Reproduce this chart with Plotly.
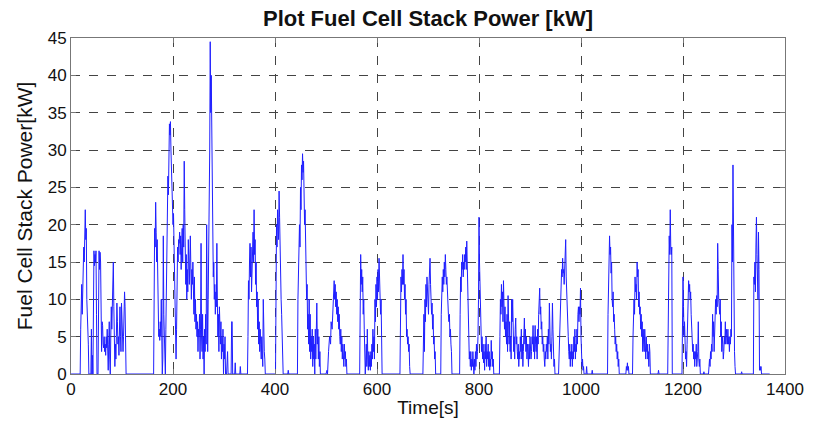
import plotly.graph_objects as go

# Fuel cell stack power over the drive cycle, (time [s], power [kW]) pairs
seg_start = [
    (0, 0), (18, 0), (19, 6), (20, 11), (21, 12), (22, 8), (23, 13), (24, 16), (25, 17), (26, 15),
    (27, 19), (28, 22), (29, 18), (30, 19.5), (31, 10), (32, 8), (33, 8.5), (34, 4), (35, 0), (39, 0),
    (40, 6), (41, 0), (42, 2.5), (43, 0), (44, 12), (45, 16.5), (46, 14.5), (47, 16), (48, 15), (49, 16.5),
    (50, 8), (51, 0), (53, 0), (54, 12), (55, 16.5), (56, 14), (57, 16.3), (58, 15), (59, 10), (60, 3),
    (61, 7), (62, 6.5), (63, 4), (64, 3.5), (65, 5), (66, 3), (67, 4), (68, 2.5), (69, 5), (70, 3.5),
    (71, 6), (72, 2), (73, 0.5), (74, 4), (75, 7), (76, 2), (77, 0), (78, 5), (79, 9), (80, 6),
    (81, 8.5), (82, 9), (83, 15), (84, 9), (85, 6), (86, 1), (87, 4), (88, 2), (89, 5), (90, 9.5),
    (91, 7), (92, 4), (93, 5), (94, 2.5), (95, 6), (96, 9), (97, 5), (98, 3), (99, 9.5), (100, 7),
    (101, 4), (102, 3), (103, 5), (104, 10.5), (105, 11), (106, 9), (107, 3), (108, 0), (162, 0),
]

seg_first_hill = [
    (163, 12), (164, 19.5), (165, 17), (166, 23), (167, 19), (168, 15), (169, 18), (170, 12), (171, 9),
    (172, 5), (173, 6), (174, 4.5), (175, 7), (176, 5), (177, 10), (178, 3), (179, 0), (180, 2),
    (181, 18.5), (182, 8), (183, 3), (184, 0), (185, 0), (186, 6), (188, 14), (189, 20), (190, 26.5),
    (191, 24), (192, 30), (193, 33.5), (194, 32), (195, 33.8), (196, 30), (197, 28), (198, 25), (199, 22),
    (200, 20), (201, 21.5), (202, 16), (203, 12), (204, 10), (205, 5), (206, 2), (207, 6), (208, 12),
    (209, 17), (210, 15), (211, 18), (212, 17.5), (213, 19), (214, 16), (215, 18.5), (216, 14), (217, 17),
    (218, 19.5), (219, 15), (220, 20), (221, 17), (222, 28.5), (223, 22), (224, 18), (225, 12), (226, 16),
    (227, 10), (228, 14), (229, 11), (230, 18), (231, 15), (232, 12), (234, 18.5), (235, 13), (236, 10),
    (237, 14), (238, 12), (239, 15), (240, 10), (241, 8), (242, 13), (243, 7), (244, 10), (245, 6),
    (246, 8), (247, 5), (248, 7), (249, 3), (250, 6), (251, 5), (252, 8), (253, 2), (254, 6),
    (255, 17.5), (256, 5), (257, 3), (258, 8), (259, 2), (260, 5), (261, 0), (262, 6), (263, 3),
    (264, 8), (265, 4), (266, 20), (267, 6), (268, 3), (269, 10), (270, 15), (271, 22), (272, 30),
    (273, 44.5), (274, 35), (275, 40), (276, 30), (277, 25), (278, 18), (279, 13), (280, 15), (281, 10),
    (282, 12), (283, 8), (284, 11), (285, 9), (286, 17.5), (287, 10), (288, 5), (289, 8), (290, 3),
    (291, 9), (292, 6), (293, 4), (294, 7), (295, 2), (296, 5), (297, 3), (298, 6), (299, 0),
    (300, 4), (301, 2), (302, 5), (303, 0), (305, 0), (307, 3), (308, 0), (314, 0), (315, 7),
    (316, 7), (317, 0), (321, 0), (322, 1.5), (323, 0), (331, 0), (332, 1), (333, 0), (346, 0),
]

seg_mid_a = [
    (347, 5), (348, 12.5), (349, 10), (350, 15), (351, 17.5), (352, 13), (353, 17), (354, 11), (355, 16),
    (356, 14), (357, 19), (358, 15), (359, 22), (360, 16), (361, 18), (362, 12), (363, 15), (364, 9),
    (365, 11), (366, 6), (367, 10), (368, 4), (369, 7), (370, 3), (371, 6), (372, 4), (373, 2),
    (374, 5), (375, 3), (376, 1), (377, 10), (378, 4), (379, 3), (380, 2), (381, 0), (401, 0),
    (402, 12), (403, 20), (404, 17), (405, 22), (406, 20), (407, 18), (408, 24.5), (409, 21), (410, 15),
    (411, 17), (412, 10), (413, 8), (414, 5), (415, 3), (416, 0), (425, 0), (426, 0.5), (427, 0),
    (444, 0), (445, 10), (446, 15), (447, 13), (448, 20), (449, 17), (450, 25), (451, 22), (452, 28),
    (453, 26), (454, 29.5), (455, 27), (456, 28.5), (457, 24), (458, 20), (459, 22), (460, 15), (461, 13),
    (462, 10), (463, 12), (464, 6), (465, 8), (466, 4), (467, 10), (468, 3), (469, 8), (470, 2),
    (471, 5), (472, 3), (473, 6), (474, 1), (475, 5), (476, 2), (477, 4), (478, 0), (479, 6),
    (480, 2), (481, 5), (482, 9.5), (483, 4), (484, 6), (485, 2), (486, 5), (487, 1), (488, 3),
    (489, 0), (500, 0), (502, 0.5), (503, 0), (505, 3), (507, 5), (509, 4), (510, 7), (512, 6),
    (514, 9), (515, 10), (516, 12.5), (517, 10), (518, 12), (519, 9), (520, 11), (521, 8), (522, 10),
    (523, 7), (524, 9), (525, 6), (526, 8), (527, 5), (528, 4), (529, 6), (530, 3), (531, 5),
    (532, 2), (533, 4), (534, 3), (535, 1), (536, 4), (537, 2), (538, 3), (539, 1), (540, 2),
    (541, 0), (566, 0),
]

seg_mid_b = [
    (567, 6), (568, 16), (569, 12), (570, 14), (571, 11), (572, 13), (573, 8), (574, 10), (575, 6),
    (576, 3), (577, 0), (578, 2), (579, 4), (580, 1), (581, 6), (582, 2), (583, 0.5), (584, 3),
    (585, 1), (586, 2.5), (587, 0.5), (588, 3), (589, 1), (590, 4), (591, 2), (592, 6), (593, 3),
    (594, 5), (595, 2), (596, 10), (597, 7), (598, 12), (599, 9), (600, 13), (601, 10), (602, 14),
    (603, 11), (604, 15.5), (605, 12), (606, 13), (607, 8), (608, 10), (609, 3), (610, 0), (645, 0),
    (646, 10), (647, 13), (648, 11), (649, 14), (650, 12), (651, 16), (652, 12), (653, 14), (654, 10),
    (655, 12), (656, 8), (657, 10), (658, 5), (659, 6), (660, 4), (661, 5), (662, 3), (663, 4),
    (664, 1), (665, 0), (690, 0), (691, 4), (692, 8), (693, 3), (694, 10), (695, 7), (696, 12),
    (697, 9), (698, 13), (699, 10), (700, 11), (701, 8), (702, 12), (703, 14), (704, 15.5), (705, 12),
    (706, 10), (707, 8), (708, 9.5), (709, 6), (710, 8), (711, 4), (712, 5), (713, 2), (714, 3),
    (715, 0), (725, 0), (726, 8), (727, 12), (728, 13), (729, 11), (730, 14), (731, 12), (732, 15),
    (733, 13), (734, 16), (735, 14), (736, 12), (737, 13), (738, 10), (739, 9), (740, 8), (741, 7),
    (742, 8), (743, 5), (744, 6), (745, 4), (746, 3), (747, 0), (762, 0),
]

seg_mid_c = [
    (763, 8), (764, 13), (765, 11), (766, 15), (767, 14), (768, 16), (769, 13), (770, 15), (771, 14),
    (772, 16), (773, 15), (774, 17), (775, 14), (776, 17.8), (777, 14), (778, 15), (779, 8), (780, 5),
    (781, 2), (782, 3), (783, 1), (784, 3), (785, 0.5), (786, 2), (787, 1), (788, 3), (789, 2),
    (790, 0), (791, 2), (792, 0.5), (793, 3), (794, 1), (795, 4), (796, 2), (797, 3), (798, 5),
    (799, 10), (800, 21), (801, 15), (802, 12), (803, 10), (804, 6), (805, 3), (806, 5), (807, 2),
    (808, 4), (809, 1.5), (810, 3), (811, 0.5), (812, 4), (813, 2), (814, 5), (815, 1), (816, 3),
    (817, 2), (818, 4), (819, 1), (820, 3), (821, 0.5), (822, 2), (823, 1), (824, 4.5), (825, 2),
    (826, 3), (827, 1), (828, 2), (829, 0), (840, 0), (841, 5), (842, 10), (843, 8), (844, 12),
    (845, 9), (846, 11), (847, 7), (848, 12.5), (849, 8), (850, 6), (851, 9), (852, 5), (853, 7),
    (854, 4), (855, 8), (856, 3), (857, 10.5), (858, 6), (859, 4), (860, 7), (861, 3), (862, 5),
    (863, 2), (864, 10), (865, 7), (866, 10), (867, 5), (868, 3), (869, 5), (870, 2), (871, 6),
    (872, 7.5), (873, 4), (874, 5), (875, 3), (876, 2), (877, 4), (878, 1), (879, 3), (880, 2),
    (881, 5), (882, 3), (883, 6), (884, 2), (885, 4), (886, 1), (887, 3), (888, 5), (889, 7.5),
    (890, 4), (891, 6), (892, 3), (893, 5), (894, 2), (895, 4), (896, 3), (897, 1), (898, 4),
    (899, 2), (900, 5), (901, 3), (902, 2), (903, 3), (904, 5), (905, 4), (906, 6.5), (907, 3),
    (908, 5), (909, 2), (910, 6.5), (911, 4), (912, 3), (913, 5), (914, 2), (915, 6), (916, 4),
    (917, 8), (918, 10.5), (919, 11.5), (920, 8), (921, 9), (922, 6), (923, 7), (924, 4), (925, 5),
    (926, 3), (927, 4), (928, 2), (929, 1), (930, 3), (931, 2), (932, 4), (933, 3), (934, 5),
    (935, 2), (936, 6), (937, 4), (938, 9.5), (939, 5), (940, 3), (941, 4), (942, 2), (943, 5),
    (944, 9.5), (945, 6), (946, 3), (947, 1), (948, 2), (949, 0), (956, 0),
]

seg_late = [
    (957, 3), (958, 5), (959, 8), (960, 10), (961, 12), (962, 14), (963, 13), (964, 15.5), (965, 13.5),
    (966, 14), (967, 12), (968, 15), (969, 17), (970, 18), (971, 13), (972, 10), (973, 8), (974, 6),
    (975, 5), (976, 3), (977, 2), (978, 4), (979, 1), (980, 3), (981, 2), (982, 4), (983, 1),
    (984, 3), (985, 2), (986, 5), (987, 3), (988, 6), (989, 2), (990, 4), (991, 3), (992, 6),
    (993, 4), (994, 8), (995, 9), (996, 7), (997, 9), (998, 8), (999, 11.5), (1000, 5), (1001, 2),
    (1002, 1), (1003, 2), (1004, 0.5), (1005, 1), (1006, 0), (1010, 0), (1011, 1), (1012, 0), (1021, 0),
    (1022, 0.5), (1023, 0), (1052, 0), (1053, 8), (1054, 14.5), (1055, 12), (1056, 18.5), (1057, 16), (1058, 17),
    (1059, 13.5), (1060, 15), (1061, 10), (1062, 9), (1063, 11), (1064, 7), (1065, 8), (1066, 6), (1067, 4),
    (1068, 5), (1069, 3), (1070, 4), (1071, 2), (1072, 3), (1073, 1), (1074, 2), (1075, 0), (1088, 0),
    (1089, 1), (1090, 0.5), (1091, 1.5), (1092, 0.5), (1093, 1), (1094, 0), (1101, 0), (1102, 5), (1103, 7),
    (1104, 10), (1105, 8), (1106, 13), (1107, 11), (1108, 12), (1109, 10), (1110, 15), (1111, 13), (1112, 14),
    (1113, 9), (1114, 11), (1115, 8), (1116, 9), (1117, 6), (1118, 8), (1119, 5), (1120, 7), (1121, 3),
    (1122, 6), (1123, 4), (1124, 3), (1125, 6), (1126, 4), (1127, 2), (1128, 5), (1129, 3), (1130, 4),
    (1131, 2), (1132, 3), (1133, 1), (1134, 4), (1135, 3), (1136, 0), (1151, 0), (1152, 0.5), (1153, 0),
]

seg_end = [
    (1170, 0), (1171, 10), (1172, 13), (1173, 18.5), (1174, 16), (1175, 22), (1176, 17), (1177, 16), (1178, 17),
    (1179, 0), (1198, 0), (1199, 5), (1200, 13), (1201, 9), (1202, 5), (1203, 7), (1204, 3), (1205, 2),
    (1206, 3), (1207, 1), (1208, 4), (1209, 6), (1210, 9), (1211, 12.5), (1212, 11), (1213, 12), (1214, 10),
    (1215, 11), (1216, 8), (1217, 6), (1218, 4), (1219, 3), (1220, 4), (1221, 2), (1222, 3), (1223, 1),
    (1224, 3), (1225, 2), (1226, 4), (1227, 1), (1228, 2), (1229, 3), (1230, 7), (1231, 2), (1232, 1),
    (1233, 2), (1234, 0), (1240, 0), (1241, 0.3), (1242, 0), (1250, 0), (1251, 1), (1252, 2), (1253, 1),
    (1254, 3), (1255, 2), (1256, 4), (1257, 3), (1258, 8), (1259, 5), (1260, 7), (1261, 3), (1262, 6),
    (1263, 5), (1264, 10), (1265, 8), (1266, 10.5), (1267, 9), (1268, 17.5), (1269, 14), (1270, 10), (1271, 9),
    (1272, 8), (1273, 10), (1274, 5), (1275, 7), (1276, 3), (1277, 5), (1278, 4), (1279, 2), (1280, 3),
    (1281, 5), (1282, 4), (1283, 7), (1284, 4), (1285, 6), (1286, 5), (1287, 4), (1288, 6), (1289, 4),
    (1290, 5), (1291, 3), (1292, 5), (1293, 4), (1294, 6), (1295, 5), (1296, 20), (1297, 15), (1298, 28),
    (1299, 19), (1300, 5), (1301, 3), (1302, 1), (1303, 0), (1314, 0), (1315, 0.3), (1316, 0), (1338, 0),
    (1339, 13), (1340, 12), (1341, 15), (1342, 11), (1343, 17), (1344, 21), (1345, 16), (1346, 13), (1347, 10),
    (1348, 19), (1349, 14), (1350, 0.5), (1351, 1), (1352, 0.5), (1353, 1), (1354, 0), (1370, 0),
]

segments = [seg_start, seg_first_hill, seg_mid_a, seg_mid_b, seg_mid_c, seg_late, seg_end]
time_s = [t for seg in segments for t, _ in seg]
power_kw = [p for seg in segments for _, p in seg]

x_ticks = [0, 200, 400, 600, 800, 1000, 1200, 1400]
y_ticks = [0, 5, 10, 15, 20, 25, 30, 35, 40, 45]

FONT = "Liberation Sans, Arial, Helvetica, sans-serif"

fig = go.Figure(
    go.Scatter(
        x=time_s,
        y=power_kw,
        mode="lines",
        line=dict(color="#1f1fff", width=1),
        showlegend=False,
        hoverinfo="x+y",
    )
)

axis_common = dict(
    showline=True,
    linecolor="#777777",
    linewidth=1,
    mirror="ticks",
    ticks="inside",
    ticklen=5,
    tickcolor="#777777",
    showgrid=True,
    gridcolor="#444444",
    gridwidth=1,
    griddash="dash",
    zeroline=False,
    tickfont=dict(family=FONT, size=17, color="#111111"),
)

fig.update_xaxes(
    range=[0, 1400],
    tickvals=x_ticks,
    ticktext=[str(v) for v in x_ticks],
    title=dict(text="Time[s]", font=dict(family=FONT, size=19, color="#111111"), standoff=2),
    **axis_common,
)
fig.update_yaxes(
    range=[0, 45],
    tickvals=y_ticks,
    ticktext=[str(v) for v in y_ticks],
    title=dict(text="Fuel Cell Stack Power[kW]", font=dict(family=FONT, size=21, color="#111111"), standoff=9),
    **axis_common,
)

fig.update_layout(
    width=819,
    height=429,
    margin=dict(l=71, r=34, t=38, b=55),
    paper_bgcolor="white",
    plot_bgcolor="white",
    title=dict(
        text="<b>Plot Fuel Cell Stack Power [kW]</b>",
        x=0.5,
        xanchor="center",
        xref="paper",
        y=0.957,
        yanchor="middle",
        font=dict(family=FONT, size=22, color="#111111"),
    ),
)

fig.write_html("out.html")
